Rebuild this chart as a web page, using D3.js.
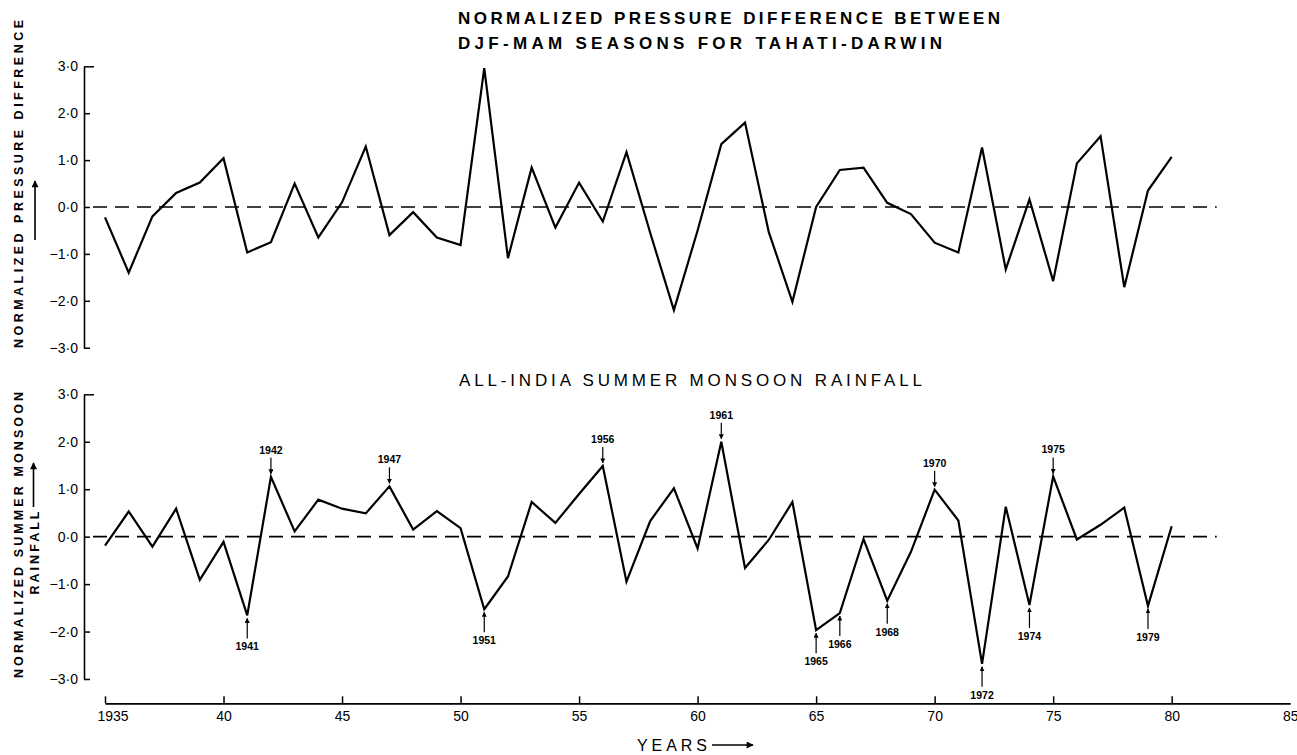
<!DOCTYPE html>
<html>
<head>
<meta charset="utf-8">
<script src="https://cdn.jsdelivr.net/npm/d3@7"></script>
<style>
  html, body { margin: 0; padding: 0; background: #fff; }
  svg { display: block; }
  text { font-family: "Liberation Sans", Arial, sans-serif; fill: #000; }
</style>
</head>
<body>
<svg id="chart" width="1297" height="755"></svg>
<script>
// ---------------- DATA ----------------
const years = d3.range(1935, 1981);
const pressureDiff = [
  -0.22, -1.40, -0.20, 0.30, 0.52, 1.04, -0.97, -0.75, 0.50, -0.65,
  0.10, 1.29, -0.60, -0.11, -0.65, -0.81, 2.96, -1.09, 0.84, -0.44,
  0.52, -0.31, 1.17, -0.55, -2.20, -0.50, 1.34, 1.80, -0.53, -2.02,
  0.00, 0.79, 0.84, 0.09, -0.15, -0.76, -0.97, 1.27, -1.33, 0.16,
  -1.58, 0.93, 1.51, -1.71, 0.35, 1.07
];
const monsoonRain = [
  -0.19, 0.53, -0.21, 0.59, -0.91, -0.11, -1.66, 1.26, 0.11, 0.78,
  0.59, 0.49, 1.06, 0.15, 0.54, 0.18, -1.53, -0.84, 0.73, 0.29,
  0.90, 1.49, -0.95, 0.33, 1.02, -0.25, 2.00, -0.66, -0.07, 0.73,
  -1.97, -1.61, -0.05, -1.35, -0.32, 0.99, 0.34, -2.68, 0.63, -1.44,
  1.27, -0.06, 0.25, 0.61, -1.46, 0.22
];
const yTickValues = [3, 2, 1, 0, -1, -2, -3];
const xTickValues = [1935, 1940, 1945, 1950, 1955, 1960, 1965, 1970, 1975, 1980, 1985];
const xTickLabels = ["1935", "40", "45", "50", "55", "60", "65", "70", "75", "80", "85"];
const peakYears = [1942, 1947, 1956, 1961, 1970, 1975];
const troughYears = [1941, 1951, 1965, 1966, 1968, 1972, 1974, 1979];
const topTitle = ["NORMALIZED  PRESSURE  DIFFERENCE  BETWEEN", "DJF-MAM  SEASONS  FOR  TAHATI-DARWIN"];
const bottomTitle = "ALL-INDIA  SUMMER  MONSOON  RAINFALL";
const topYLabel = "NORMALIZED   PRESSURE   DIFFRENCE";
const bottomYLabel = ["NORMALIZED  SUMMER  MONSOON", "RAINFALL"];
const xTitle = "YEARS";

// ---------------- SETUP ----------------
const svg = d3.select("#chart");
const defs = svg.append("defs");
defs.append("marker")
  .attr("id", "ah")
  .attr("viewBox", "0 0 10 10")
  .attr("refX", 9).attr("refY", 5)
  .attr("markerWidth", 5).attr("markerHeight", 5)
  .attr("markerUnits", "userSpaceOnUse")
  .attr("orient", "auto")
  .append("path").attr("d", "M0,0 L10,5 L0,10 Z").attr("fill", "#000");
defs.append("marker")
  .attr("id", "ahBig")
  .attr("viewBox", "0 0 10 10")
  .attr("refX", 9).attr("refY", 5)
  .attr("markerWidth", 8).attr("markerHeight", 7)
  .attr("markerUnits", "userSpaceOnUse")
  .attr("orient", "auto")
  .append("path").attr("d", "M0,0 L10,5 L0,10 Z").attr("fill", "#000");

const x = d3.scaleLinear().domain([1935, 1985]).range([105, 1290.2]);
const yTop = d3.scaleLinear().domain([-3, 3]).range([347.7, 66.3]);
const yBot = d3.scaleLinear().domain([-3, 3]).range([679, 394.3]);
const axisX = 84;

const fmt = v => (v < 0 ? "\u2212" : "") + Math.abs(v).toFixed(0) + "\u00B70";

function drawPanel(yScale, values) {
  // y axis
  const ax = d3.axisLeft(yScale)
    .tickValues(yTickValues)
    .tickSizeInner(-6)
    .tickSizeOuter(0)
    .tickPadding(6)
    .tickFormat(fmt);
  const g = svg.append("g").attr("transform", `translate(${axisX},0)`).call(ax);
  g.select(".domain").attr("stroke", "#000").attr("stroke-width", 1.6);
  g.selectAll(".tick line").attr("stroke", "#000").attr("stroke-width", 1.5)
    .attr("x2", d => d === 3 ? 10 : 6);
  g.selectAll(".tick text").attr("font-size", 14).attr("fill", "#000");

  // dashed zero line
  svg.append("line")
    .attr("x1", x(1935) - 12).attr("x2", x(1981.9))
    .attr("y1", yScale(0)).attr("y2", yScale(0))
    .attr("stroke", "#000").attr("stroke-width", 1.6)
    .attr("stroke-dasharray", "14,8");

  // series line
  const line = d3.line().x((d, i) => x(years[i])).y(d => yScale(d));
  svg.append("path")
    .datum(values)
    .attr("d", line)
    .attr("fill", "none")
    .attr("stroke", "#000")
    .attr("stroke-width", 2.2)
    .attr("stroke-linejoin", "miter");
}

drawPanel(yTop, pressureDiff);
drawPanel(yBot, monsoonRain);

// ---------------- TITLES ----------------
svg.append("text").attr("x", 458).attr("y", 23.5)
  .attr("font-size", 17).attr("font-weight", "bold")
  .attr("textLength", 542).attr("lengthAdjust", "spacing")
  .text(topTitle[0]);
svg.append("text").attr("x", 458).attr("y", 48.5)
  .attr("font-size", 17).attr("font-weight", "bold")
  .attr("textLength", 484).attr("lengthAdjust", "spacing")
  .text(topTitle[1]);
svg.append("text").attr("x", 459).attr("y", 385.5)
  .attr("font-size", 17).attr("font-weight", "normal")
  .attr("textLength", 463).attr("lengthAdjust", "spacing")
  .text(bottomTitle);

// ---------------- Y LABELS ----------------
svg.append("text")
  .attr("transform", `translate(23,184) rotate(-90)`)
  .attr("text-anchor", "middle")
  .attr("font-size", 12.5).attr("font-weight", "bold")
  .attr("textLength", 328).attr("lengthAdjust", "spacing")
  .text(topYLabel);
svg.append("line")
  .attr("x1", 35).attr("x2", 35).attr("y1", 240).attr("y2", 181)
  .attr("stroke", "#000").attr("stroke-width", 1.6)
  .attr("marker-end", "url(#ahBig)");

svg.append("text")
  .attr("transform", `translate(23,535) rotate(-90)`)
  .attr("text-anchor", "middle")
  .attr("font-size", 12.5).attr("font-weight", "bold")
  .attr("textLength", 286).attr("lengthAdjust", "spacing")
  .text(bottomYLabel[0]);
svg.append("text")
  .attr("transform", `translate(38.5,553) rotate(-90)`)
  .attr("text-anchor", "middle")
  .attr("font-size", 12.5).attr("font-weight", "bold")
  .attr("textLength", 83).attr("lengthAdjust", "spacing")
  .text(bottomYLabel[1]);
svg.append("line")
  .attr("x1", 33.5).attr("x2", 33.5).attr("y1", 507).attr("y2", 463)
  .attr("stroke", "#000").attr("stroke-width", 1.6)
  .attr("marker-end", "url(#ahBig)");

// ---------------- X AXIS ----------------
const xAxis = d3.axisBottom(x)
  .tickValues(xTickValues)
  .tickSizeInner(-7)
  .tickSizeOuter(0)
  .tickPadding(8)
  .tickFormat((d, i) => xTickLabels[i]);
const gx = svg.append("g").attr("transform", "translate(0,703.3)").call(xAxis);
gx.select(".domain").attr("stroke", "#000").attr("stroke-width", 1.8);
gx.selectAll(".tick line").attr("stroke", "#000").attr("stroke-width", 1.5)
  .attr("opacity", d => d > 1980 ? 0 : 1);
gx.selectAll(".tick text").attr("font-size", 14).attr("fill", "#000")
  .attr("text-anchor", d => d === 1935 ? "start" : "middle")
  .attr("dx", d => d === 1935 ? -8 : 0);

svg.append("text").attr("x", 637).attr("y", 751)
  .attr("font-size", 16)
  .attr("textLength", 70).attr("lengthAdjust", "spacing")
  .text(xTitle);
svg.append("line")
  .attr("x1", 712).attr("x2", 753).attr("y1", 745).attr("y2", 745)
  .attr("stroke", "#000").attr("stroke-width", 1.6)
  .attr("marker-end", "url(#ahBig)");

// ---------------- ANNOTATIONS ----------------
const valOf = yr => monsoonRain[years.indexOf(yr)];
const ann = svg.append("g");
peakYears.forEach(yr => {
  const px = x(yr), py = yBot(valOf(yr));
  ann.append("text").attr("x", px).attr("y", py - 23)
    .attr("text-anchor", "middle").attr("font-size", 10.5).attr("font-weight", "bold")
    .text(yr);
  ann.append("line").attr("x1", px).attr("x2", px)
    .attr("y1", py - 19).attr("y2", py - 3)
    .attr("stroke", "#000").attr("stroke-width", 1.2)
    .attr("marker-end", "url(#ah)");
});
troughYears.forEach(yr => {
  const px = x(yr), py = yBot(valOf(yr));
  ann.append("text").attr("x", px).attr("y", py + 35)
    .attr("text-anchor", "middle").attr("font-size", 10.5).attr("font-weight", "bold")
    .text(yr);
  ann.append("line").attr("x1", px).attr("x2", px)
    .attr("y1", py + 23).attr("y2", py + 3)
    .attr("stroke", "#000").attr("stroke-width", 1.2)
    .attr("marker-end", "url(#ah)");
});
</script>
</body>
</html>
